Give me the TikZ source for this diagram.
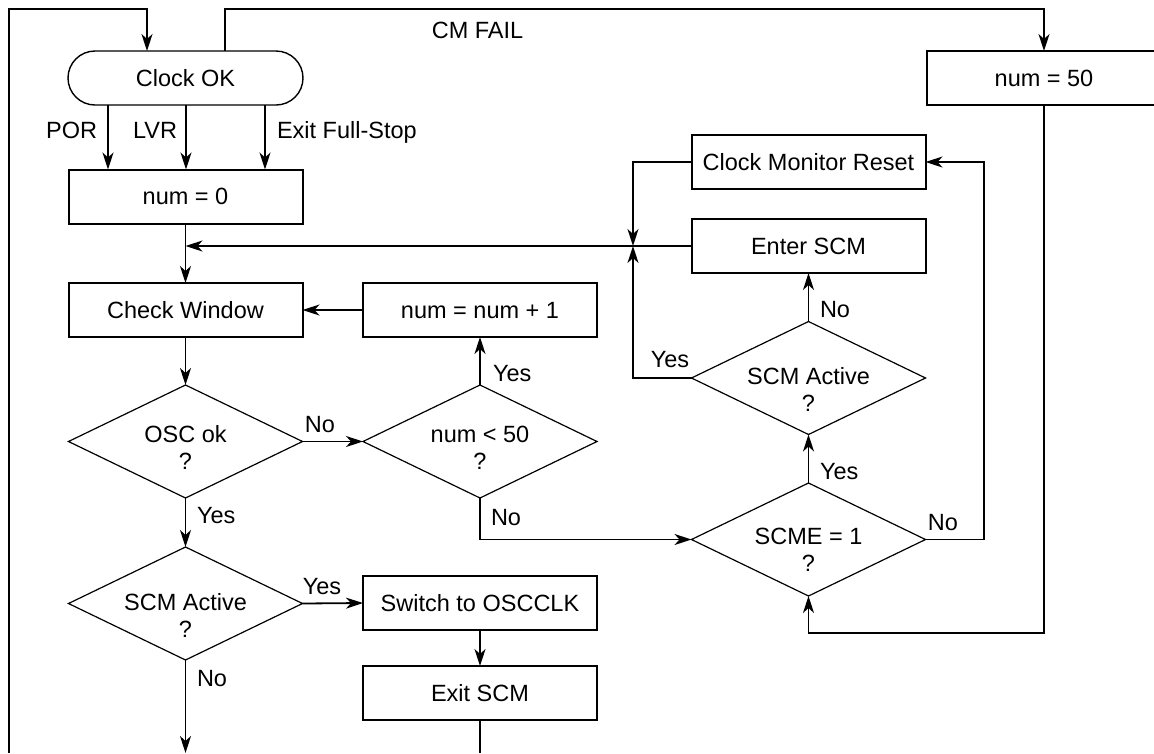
\documentclass[tikz,border=0pt]{standalone}
\usepackage{fontspec}
\setmainfont{Liberation Sans}
\usetikzlibrary{arrows.meta,shapes.geometric}
\begin{document}
\begin{tikzpicture}[x=1pt,y=-1pt,
  every node/.style={font=\fontsize{23.5pt}{27pt}\selectfont, inner sep=0pt, outer sep=0pt},
  box/.style={draw, line width=2pt, minimum width=234pt, minimum height=54pt, text height=16.8pt, text depth=0pt},
  pill/.style={draw, line width=1.4pt, rounded corners=27pt, minimum width=235pt, minimum height=54pt, text height=16.8pt, text depth=0pt},
  dia/.style={draw, diamond, line width=1.2pt, minimum width=234pt, minimum height=113pt},
  dtext/.style={align=center},
  lab/.style={text height=16.8pt, text depth=0pt},
  conn/.style={line width=1.8pt},
  arr/.style={line width=1.8pt, -{Stealth[length=17pt,width=11pt,inset=5pt]}}
]
\useasboundingbox (0,0) rectangle (1154,753);
\clip (0,0) rectangle (1154,753);

% nodes
\node[pill] (clock) at (185.5,78) {Clock OK};
\node[box] (num0) at (185.5,196.5) {num = 0};
\node[box] (check) at (185.5,310) {Check Window};
\node[box] (inc) at (480,310) {num = num + 1};
\node[dia] (osc) at (185.5,441.5) {};
\node[dtext] (osct) at (185.5,447) {OSC ok\\?};
\node[dia] (numlt) at (480,441.5) {};
\node[dtext] (numltt) at (480,448) {num < 50\\?};
\node[dia] (scma) at (185.5,603.5) {};
\node[dtext] (scmat) at (185.5,615) {SCM Active\\?};
\node[box] (sw) at (480,603) {Switch to OSCCLK};
\node[box] (exit) at (480,693) {Exit SCM};
\node[dia] (scme) at (808.5,539.5) {};
\node[dtext] (scmet) at (808.5,550) {SCME = 1\\?};
\node[dia] (scmb) at (808.5,378) {};
\node[dtext] (scmbt) at (808.5,389.5) {SCM Active\\?};
\node[box] (enter) at (808.5,246) {Enter SCM};
\node[box] (cmr) at (808.5,162) {Clock Monitor Reset};
\node[box] (n50) at (1044,78) {num = 50};

% helper coordinates
\coordinate (lb) at (9,753);
\coordinate (lt) at (147,9);
\coordinate (cmx) at (225,9);
\coordinate (xpor) at (108,0);
\coordinate (xlvr) at (186,0);
\coordinate (xexf) at (265,0);
\coordinate (m) at (633,246);
\coordinate (rr) at (984,0);
\coordinate (ret) at (808.5,633);
\coordinate (b1) at (185.5,753);
\coordinate (b2) at (480,753);

% connectors
\draw[arr] (lb) |- (lt) -- (lt |- clock.north);
\draw[arr] (clock.north -| cmx) -- (cmx) -| (n50.north);
\node[lab] (cmfail) at (477.5,30) {CM FAIL};

\draw[arr] (clock.south -| xpor) -- (num0.north -| xpor);
\draw[arr] (clock.south -| xlvr) -- (num0.north -| xlvr);
\draw[arr] (clock.south -| xexf) -- (num0.north -| xexf);
\node[lab, anchor=east] (lpor) at (97,130) {POR};
\node[lab, anchor=east] (llvr) at (177,130) {LVR};
\node[lab, anchor=west] (lexf) at (277,130) {Exit Full-Stop};

\draw[arr] (num0.south) -- (check.north);
\draw[arr] (enter.west) -- (num0.south |- enter.west);
\draw[arr] (cmr.west) -| (m);
\draw[arr] (scmb.west) -| (m);
\node[lab] (lyes5) at (670,359) {Yes};

\draw[arr] (inc.west) -- (check.east);
\draw[arr] (check.south) -- (osc.north);
\draw[arr] (osc.east) -- (numlt.west);
\node[lab] (lno1) at (320,424) {No};
\draw[arr] (numlt.north) -- (inc.south);
\node[lab, anchor=west] (lyes1) at (493,373.5) {Yes};
\draw[arr] (osc.south) -- (scma.north);
\node[lab, anchor=west] (lyes2) at (197,515) {Yes};
\draw[arr] (scma.east) -- (sw.west);
\node[lab] (lyes3) at (322,586) {Yes};
\draw[arr] (sw.south) -- (exit.north);
\draw[arr] (scma.south) -- (b1);
\node[lab, anchor=west] (lno2) at (197,678) {No};
\draw[conn] (exit.south) -- (b2);

\draw[arr] (numlt.south) |- (scme.west);
\node[lab, anchor=west] (lno3) at (491,517) {No};
\draw[arr] (scme.north) -- (scmb.south);
\node[lab, anchor=west] (lyes4) at (820,471) {Yes};
\draw[arr] (scmb.north) -- (enter.south);
\node[lab, anchor=west] (lno4) at (820,309) {No};
\draw[arr] (scme.east) -- (scme.east -| rr) |- (cmr.east);
\node[lab] (lno5) at (943,522) {No};
\draw[arr] (n50.south) |- (ret) -- (scme.south);
\end{tikzpicture}
\end{document}
